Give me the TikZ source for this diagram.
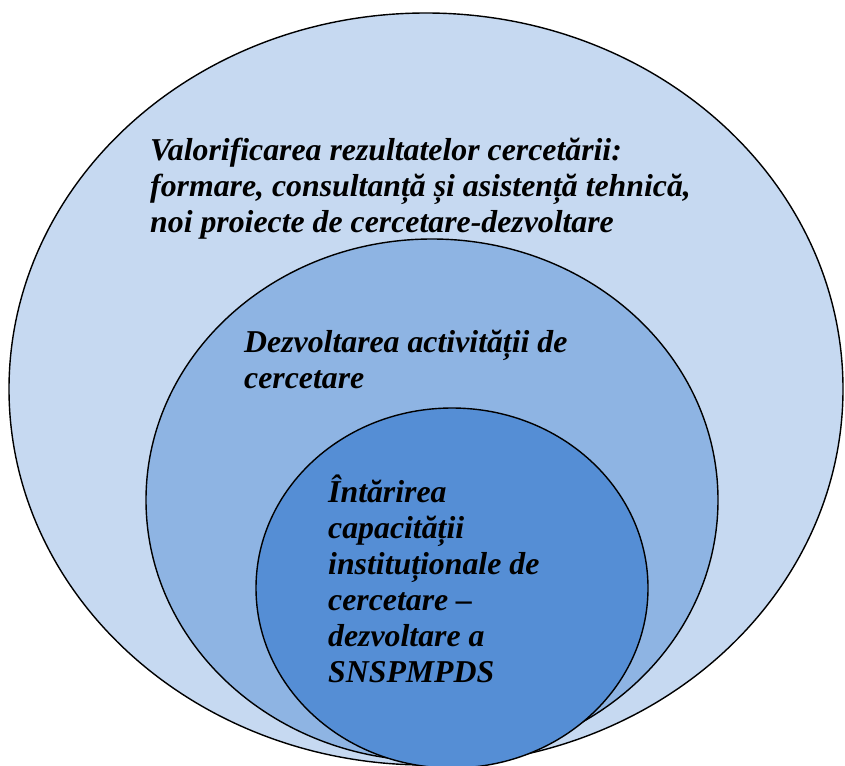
\documentclass[tikz,border=0pt]{standalone}
\usepackage{fontspec}
\setmainfont{Liberation Serif}
\definecolor{ringOuter}{HTML}{C6D9F1}
\definecolor{ringMiddle}{HTML}{8EB4E3}
\definecolor{ringInner}{HTML}{558ED5}
\begin{document}
\begin{tikzpicture}[x=1pt,y=-1pt]
\tikzstyle{every node}=[font=\fontsize{31.8}{36}\selectfont\bfseries\itshape, inner sep=0pt, align=left]
\tikzstyle{ring}=[draw=black, line width=1.4pt]
\useasboundingbox (0,0) rectangle (845,765);
\begin{scope}
\clip (0,0) rectangle (845,765);
\coordinate (OuterC) at (426,389);
\coordinate (MiddleC) at (432,500);
\coordinate (InnerC) at (452,588);
\filldraw[ring, fill=ringOuter] (OuterC) ellipse [x radius=417, y radius=376];
\filldraw[ring, fill=ringMiddle] (MiddleC) ellipse [x radius=286, y radius=261];
\filldraw[ring, fill=ringInner] (InnerC) ellipse [x radius=196, y radius=180];
\end{scope}

\node[anchor=base west] (ValorText) at (150,232) {Valorificarea rezultatelor cercetării:\\formare, consultanță și asistență tehnică,\\noi proiecte de cercetare-dezvoltare};
\node[anchor=base west] (DezvText) at (244,388) {Dezvoltarea activității de\\cercetare};
\node[anchor=base west] (IntarText) at (328,682) {Întărirea\\capacității\\instituționale de\\cercetare –\\dezvoltare a\\SNSPMPDS};
\end{tikzpicture}
\end{document}
